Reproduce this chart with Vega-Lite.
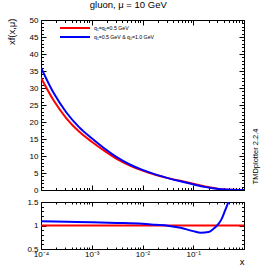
{
  "$schema": "https://vega.github.io/schema/vega-lite/v6.json",
  "padding": {"left": 5, "top": 0, "right": 2, "bottom": 2},
  "title": {"text": "gluon, μ = 10 GeV", "fontSize": 9.5, "font": "Liberation Sans", "fontWeight": "normal", "anchor": "middle", "color": "black", "offset": 6, "dx": -4},
  "spacing": 2,
  "resolve": {"scale": {"color": "independent"}},
  "config": {
    "view": {"stroke": "black", "strokeWidth": 1},
    "font": "Liberation Sans",
    "axis": {"domain": false, "grid": false, "labelFont": "Liberation Sans", "labelFontSize": 8, "labelColor": "black", "tickColor": "black", "tickWidth": 1, "titleFont": "Liberation Sans", "titleFontWeight": "normal", "titleColor": "black"}
  },
  "datasets": {
    "main": [
      {"x": 0.0001, "series": "q₁=q₂=0.5 GeV", "v": 33.0},
      {"x": 0.000178, "series": "q₁=q₂=0.5 GeV", "v": 26.3},
      {"x": 0.000316, "series": "q₁=q₂=0.5 GeV", "v": 21.1},
      {"x": 0.000562, "series": "q₁=q₂=0.5 GeV", "v": 17.2},
      {"x": 0.001, "series": "q₁=q₂=0.5 GeV", "v": 14.2},
      {"x": 0.00178, "series": "q₁=q₂=0.5 GeV", "v": 11.5},
      {"x": 0.00316, "series": "q₁=q₂=0.5 GeV", "v": 9.1},
      {"x": 0.00562, "series": "q₁=q₂=0.5 GeV", "v": 7.2},
      {"x": 0.01, "series": "q₁=q₂=0.5 GeV", "v": 5.7},
      {"x": 0.0178, "series": "q₁=q₂=0.5 GeV", "v": 4.5},
      {"x": 0.0316, "series": "q₁=q₂=0.5 GeV", "v": 3.5},
      {"x": 0.0562, "series": "q₁=q₂=0.5 GeV", "v": 2.7},
      {"x": 0.1, "series": "q₁=q₂=0.5 GeV", "v": 1.88},
      {"x": 0.178, "series": "q₁=q₂=0.5 GeV", "v": 0.99},
      {"x": 0.316, "series": "q₁=q₂=0.5 GeV", "v": 0.3},
      {"x": 0.562, "series": "q₁=q₂=0.5 GeV", "v": 0.06},
      {"x": 1, "series": "q₁=q₂=0.5 GeV", "v": 0},
      {"x": 0.0001, "series": "q₁=0.5 GeV & q₂=1.0 GeV", "v": 36.0},
      {"x": 0.000178, "series": "q₁=0.5 GeV & q₂=1.0 GeV", "v": 28.5},
      {"x": 0.000316, "series": "q₁=0.5 GeV & q₂=1.0 GeV", "v": 22.8},
      {"x": 0.000562, "series": "q₁=0.5 GeV & q₂=1.0 GeV", "v": 18.5},
      {"x": 0.001, "series": "q₁=0.5 GeV & q₂=1.0 GeV", "v": 15.2},
      {"x": 0.00178, "series": "q₁=0.5 GeV & q₂=1.0 GeV", "v": 12.2},
      {"x": 0.00316, "series": "q₁=0.5 GeV & q₂=1.0 GeV", "v": 9.6},
      {"x": 0.00562, "series": "q₁=0.5 GeV & q₂=1.0 GeV", "v": 7.5},
      {"x": 0.01, "series": "q₁=0.5 GeV & q₂=1.0 GeV", "v": 5.9},
      {"x": 0.0178, "series": "q₁=0.5 GeV & q₂=1.0 GeV", "v": 4.6},
      {"x": 0.0316, "series": "q₁=0.5 GeV & q₂=1.0 GeV", "v": 3.5},
      {"x": 0.0562, "series": "q₁=0.5 GeV & q₂=1.0 GeV", "v": 2.55},
      {"x": 0.1, "series": "q₁=0.5 GeV & q₂=1.0 GeV", "v": 1.65},
      {"x": 0.178, "series": "q₁=0.5 GeV & q₂=1.0 GeV", "v": 0.85},
      {"x": 0.316, "series": "q₁=0.5 GeV & q₂=1.0 GeV", "v": 0.3},
      {"x": 0.562, "series": "q₁=0.5 GeV & q₂=1.0 GeV", "v": 0.08},
      {"x": 1, "series": "q₁=0.5 GeV & q₂=1.0 GeV", "v": 0}
    ],
    "ratio": [
      {"x": 0.0001, "series": "red", "r": 1},
      {"x": 1, "series": "red", "r": 1},
      {"x": 0.0001, "series": "blue", "r": 1.09},
      {"x": 0.000316, "series": "blue", "r": 1.08},
      {"x": 0.001, "series": "blue", "r": 1.07},
      {"x": 0.00316, "series": "blue", "r": 1.055},
      {"x": 0.01, "series": "blue", "r": 1.035},
      {"x": 0.0178, "series": "blue", "r": 1.015},
      {"x": 0.0316, "series": "blue", "r": 0.995},
      {"x": 0.0562, "series": "blue", "r": 0.95},
      {"x": 0.1, "series": "blue", "r": 0.88},
      {"x": 0.141, "series": "blue", "r": 0.845},
      {"x": 0.2, "series": "blue", "r": 0.86},
      {"x": 0.251, "series": "blue", "r": 0.93},
      {"x": 0.295, "series": "blue", "r": 1.0},
      {"x": 0.355, "series": "blue", "r": 1.12},
      {"x": 0.417, "series": "blue", "r": 1.3},
      {"x": 0.49, "series": "blue", "r": 1.5},
      {"x": 0.56, "series": "blue", "r": 1.75}
    ]
  },
  "vconcat": [
    {
      "width": 203,
      "height": 170,
      "resolve": {"axis": {"x": "independent", "y": "independent"}},
      "layer": [
        {
          "data": {"name": "main"},
          "transform": [{"filter": "datum.series == 'q₁=q₂=0.5 GeV'"}],
          "mark": {"type": "line", "strokeWidth": 2, "clip": true, "interpolate": "monotone"},
          "encoding": {
            "x": {"field": "x", "type": "quantitative", "scale": {"type": "log", "domain": [0.0001, 1], "nice": false},
              "axis": {"orient": "bottom", "title": null, "labels": false,
                "values": [0.0001,0.0002,0.0003,0.0004,0.0005,0.0006,0.0007,0.0008,0.0009,0.001,0.002,0.003,0.004,0.005,0.006,0.007,0.008,0.009,0.01,0.02,0.03,0.04,0.05,0.06,0.07,0.08,0.09,0.1,0.2,0.3,0.4,0.5,0.6,0.7,0.8,0.9,1],
                "tickSize": {"condition": {"test": "abs(log(datum.value)/LN10 - round(log(datum.value)/LN10)) < 0.000001", "value": -5}, "value": -2.5}}},
            "y": {"field": "v", "type": "quantitative", "scale": {"domain": [0, 50], "nice": false, "zero": false},
              "axis": {"orient": "left", "title": "xf(x,μ)", "titleFontSize": 9.5, "titleAngle": -90, "titleAlign": "right", "titleBaseline": "alphabetic", "titleX": -27, "titleY": -2,
                "values": [0,1,2,3,4,5,6,7,8,9,10,11,12,13,14,15,16,17,18,19,20,21,22,23,24,25,26,27,28,29,30,31,32,33,34,35,36,37,38,39,40,41,42,43,44,45,46,47,48,49,50],
                "labelExpr": "datum.value % 5 == 0 ? datum.label : ''",
                "labelPadding": 8,
                "tickSize": {"condition": {"test": "datum.value % 5 == 0", "value": -5}, "value": -2.5}}},
            "color": {"field": "series", "type": "nominal",
              "scale": {"domain": ["q₁=q₂=0.5 GeV", "q₁=0.5 GeV & q₂=1.0 GeV"], "range": ["#ff0000", "#0000ff"]},
              "legend": {"orient": "none", "legendX": 30.5, "legendY": 4.5, "title": null, "symbolType": "M-6,0H6", "symbolSize": 25, "symbolStrokeWidth": 2, "labelFontSize": 5.2, "labelFont": "Liberation Sans", "labelColor": "black", "rowPadding": 0, "padding": 0, "labelOffset": 15.5}}
          }
        },
        {
          "data": {"name": "main"},
          "transform": [{"filter": "datum.series == 'q₁=0.5 GeV & q₂=1.0 GeV'"}],
          "mark": {"type": "line", "strokeWidth": 2, "clip": true, "interpolate": "monotone"},
          "encoding": {
            "x": {"field": "x", "type": "quantitative", "scale": {"type": "log", "domain": [0.0001, 1], "nice": false},
              "axis": {"orient": "top", "title": null, "labels": false,
                "values": [0.0001,0.0002,0.0003,0.0004,0.0005,0.0006,0.0007,0.0008,0.0009,0.001,0.002,0.003,0.004,0.005,0.006,0.007,0.008,0.009,0.01,0.02,0.03,0.04,0.05,0.06,0.07,0.08,0.09,0.1,0.2,0.3,0.4,0.5,0.6,0.7,0.8,0.9,1],
                "tickSize": {"condition": {"test": "abs(log(datum.value)/LN10 - round(log(datum.value)/LN10)) < 0.000001", "value": -5}, "value": -2.5}}},
            "y": {"field": "v", "type": "quantitative", "scale": {"domain": [0, 50], "nice": false, "zero": false},
              "axis": {"orient": "right", "labels": false, "title": "TMDplotter 2.2.4", "titleFontSize": 7.5, "titleAngle": -90, "titleAlign": "center", "titleBaseline": "alphabetic", "titleX": 13, "titleY": 136,
                "values": [0,1,2,3,4,5,6,7,8,9,10,11,12,13,14,15,16,17,18,19,20,21,22,23,24,25,26,27,28,29,30,31,32,33,34,35,36,37,38,39,40,41,42,43,44,45,46,47,48,49,50],
                "tickSize": {"condition": {"test": "datum.value % 5 == 0", "value": -5}, "value": -2.5}}},
            "color": {"field": "series", "type": "nominal",
              "scale": {"domain": ["q₁=q₂=0.5 GeV", "q₁=0.5 GeV & q₂=1.0 GeV"], "range": ["#ff0000", "#0000ff"]}}
          }
        }
      ]
    },
    {
      "width": 203,
      "height": 47,
      "resolve": {"axis": {"x": "independent", "y": "independent"}},
      "layer": [
        {
          "data": {"name": "ratio"},
          "transform": [{"filter": "datum.series == 'red'"}],
          "mark": {"type": "line", "strokeWidth": 2, "color": "#ff0000", "clip": true},
          "encoding": {
            "x": {"field": "x", "type": "quantitative", "scale": {"type": "log", "domain": [0.0001, 1], "nice": false},
              "axis": {"orient": "bottom", "title": "x", "titleFontSize": 9.5, "titleAlign": "right", "titleAnchor": "end", "titleX": 203, "titleY": 15, "titleBaseline": "alphabetic",
                "values": [0.0001,0.0002,0.0003,0.0004,0.0005,0.0006,0.0007,0.0008,0.0009,0.001,0.002,0.003,0.004,0.005,0.006,0.007,0.008,0.009,0.01,0.02,0.03,0.04,0.05,0.06,0.07,0.08,0.09,0.1,0.2,0.3,0.4,0.5,0.6,0.7,0.8,0.9,1],
                "labelExpr": "datum.value == 0.0001 ? '10⁻⁴' : datum.value == 0.001 ? '10⁻³' : datum.value == 0.01 ? '10⁻²' : datum.value == 0.1 ? '10⁻¹' : ''",
                "labelPadding": 5, "labelFlush": false, "labelOverlap": false,
                "tickSize": {"condition": {"test": "abs(log(datum.value)/LN10 - round(log(datum.value)/LN10)) < 0.000001", "value": -4}, "value": -2}}},
            "y": {"field": "r", "type": "quantitative", "scale": {"domain": [0.5, 1.5], "nice": false, "zero": false},
              "axis": {"orient": "left", "title": null,
                "values": [0.5,0.6,0.7,0.8,0.9,1,1.1,1.2,1.3,1.4,1.5],
                "labelExpr": "datum.value == 0.5 ? '0.5' : datum.value == 1 ? '1' : datum.value == 1.5 ? '1.5' : ''",
                "labelPadding": 8, "labelFlush": false, "labelOverlap": false,
                "tickSize": {"condition": {"test": "datum.value == 0.5 || datum.value == 1 || datum.value == 1.5", "value": -5}, "value": -2.5}}}
          }
        },
        {
          "data": {"name": "ratio"},
          "transform": [{"filter": "datum.series == 'blue'"}],
          "mark": {"type": "line", "strokeWidth": 2, "color": "#0000ff", "clip": true, "interpolate": "monotone"},
          "encoding": {
            "x": {"field": "x", "type": "quantitative", "scale": {"type": "log", "domain": [0.0001, 1], "nice": false},
              "axis": {"orient": "top", "title": null, "labels": false,
                "values": [0.0001,0.0002,0.0003,0.0004,0.0005,0.0006,0.0007,0.0008,0.0009,0.001,0.002,0.003,0.004,0.005,0.006,0.007,0.008,0.009,0.01,0.02,0.03,0.04,0.05,0.06,0.07,0.08,0.09,0.1,0.2,0.3,0.4,0.5,0.6,0.7,0.8,0.9,1],
                "tickSize": {"condition": {"test": "abs(log(datum.value)/LN10 - round(log(datum.value)/LN10)) < 0.000001", "value": -4}, "value": -2}}},
            "y": {"field": "r", "type": "quantitative", "scale": {"domain": [0.5, 1.5], "nice": false, "zero": false},
              "axis": {"orient": "right", "title": null, "labels": false,
                "values": [0.5,0.6,0.7,0.8,0.9,1,1.1,1.2,1.3,1.4,1.5],
                "tickSize": {"condition": {"test": "datum.value == 0.5 || datum.value == 1 || datum.value == 1.5", "value": -5}, "value": -2.5}}}
          }
        }
      ]
    }
  ]
}
